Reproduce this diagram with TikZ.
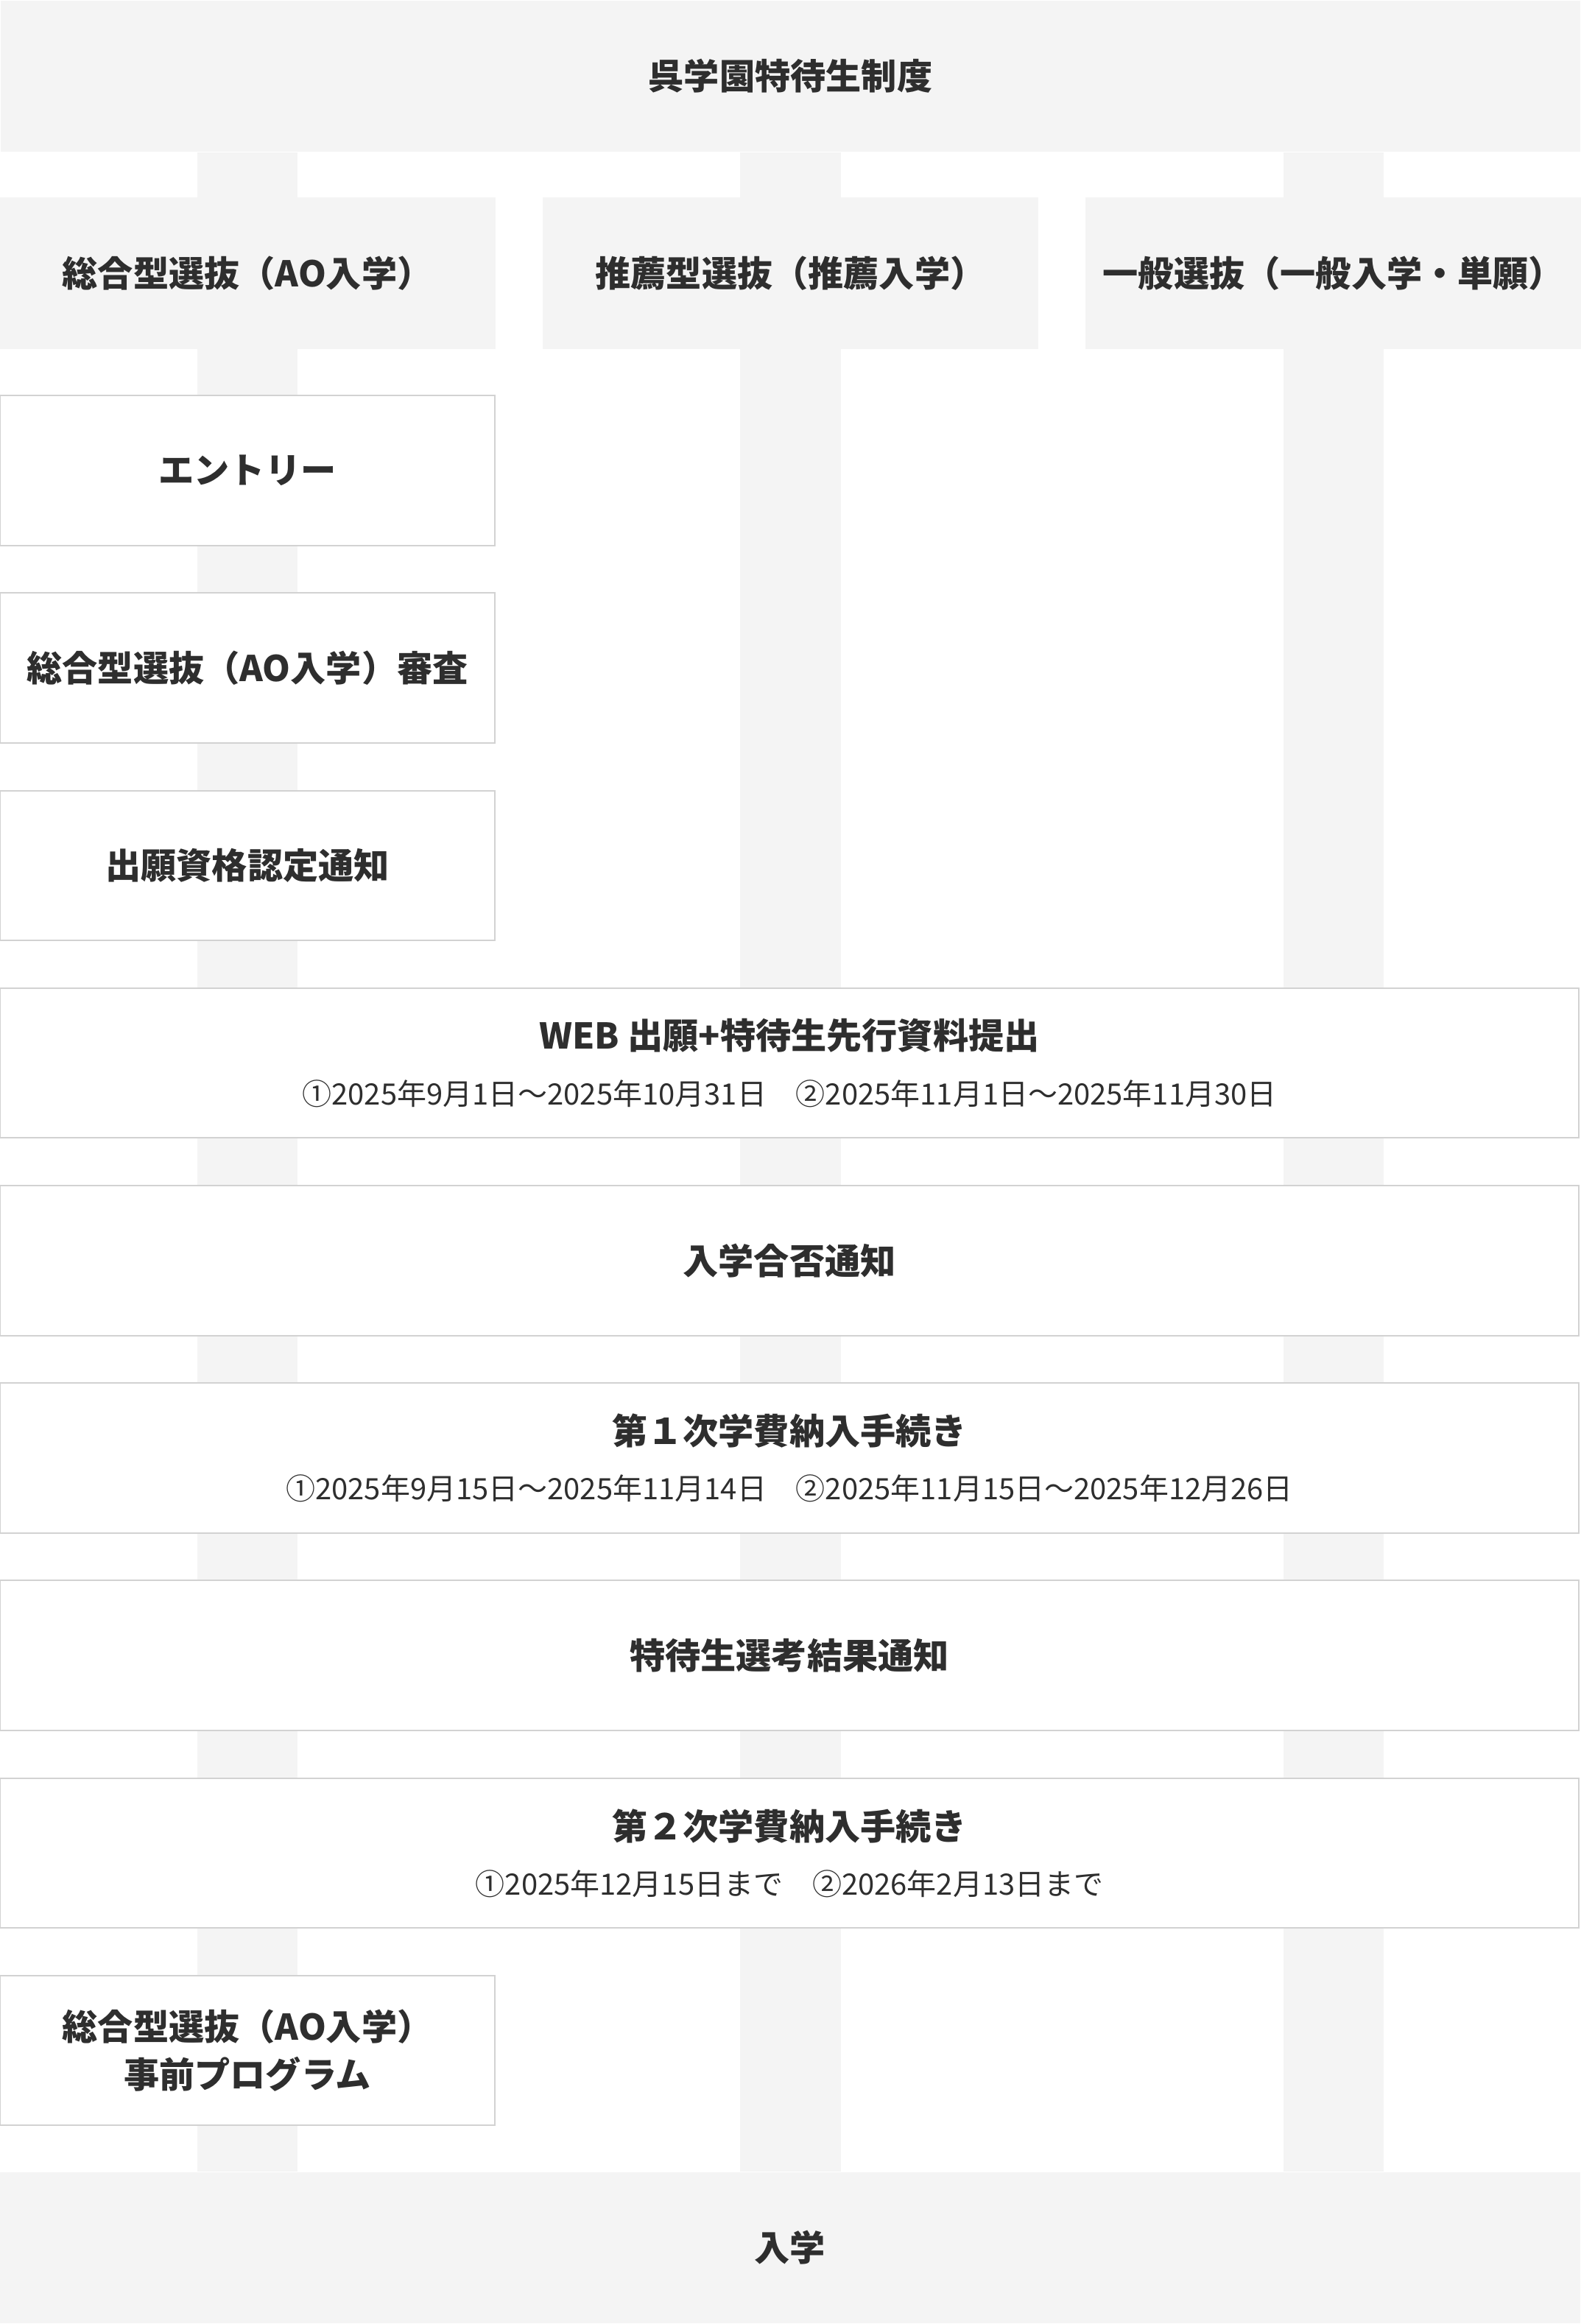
\documentclass[tikz,border=0pt]{standalone}
\usepackage{fontspec}
\setmainfont{Noto Sans CJK JP}
\usetikzlibrary{positioning, backgrounds}
\definecolor{boxgray}{HTML}{F4F4F4}
\definecolor{edgegray}{HTML}{D2D2D2}
\definecolor{inkgray}{HTML}{2E2E2E}
\newcommand{\titlefont}{\fontsize{13.8pt}{16.5pt}\selectfont\bfseries}
\newcommand{\datefont}{\fontsize{11.45pt}{14pt}\selectfont\mdseries}
\tikzstyle{head} = [rectangle, minimum width=21.6cm, minimum height=2.07cm,
text centered, fill=boxgray, text=inkgray, font=\titlefont]
\tikzstyle{route} = [rectangle, minimum width=6.78cm, minimum height=2.07cm,
text centered, fill=boxgray, text=inkgray, font=\titlefont]
\tikzstyle{stepbox} = [rectangle, minimum width=6.76cm, minimum height=2.05cm,
align=center, draw=edgegray, line width=0.02cm, fill=white, text=inkgray, font=\titlefont]
\tikzstyle{widebox} = [stepbox, minimum width=21.58cm]
\tikzstyle{stripe} = [line width=1.37cm, draw=boxgray]

\begin{document}
\begin{tikzpicture}[node distance=0.63cm]
      \node (head) [head] {呉学園特待生制度};
      \node (rec) [route, below=0.61cm of head] {推薦型選抜（推薦入学）};
      \node (ao) [route, left=0.63cm of rec] {総合型選抜（AO入学）};
      \node (gen) [route, right=0.63cm of rec] {一般選抜（一般入学・単願）};

      \node (entry) [stepbox, below=0.62cm of ao] {エントリー};
      \node (review) [stepbox, below=of entry] {総合型選抜（AO入学）審査};
      \node (notice) [stepbox, below=of review] {出願資格認定通知};

      \node (web) [widebox, below=of notice.south west, anchor=north west] {WEB 出願+特待生先行資料提出\\[5pt]
        {\datefont ①2025年9月1日～2025年10月31日　②2025年11月1日～2025年11月30日}};
      \node (result) [widebox, below=of web] {入学合否通知};
      \node (pay1) [widebox, below=of result] {第１次学費納入手続き\\[5pt]
        {\datefont ①2025年9月15日～2025年11月14日　②2025年11月15日～2025年12月26日}};
      \node (award) [widebox, below=of pay1] {特待生選考結果通知};
      \node (pay2) [widebox, below=of award] {第２次学費納入手続き\\[5pt]
        {\datefont ①2025年12月15日まで　②2026年2月13日まで}};
      \node (prog) [stepbox, below=of pay2.south west, anchor=north west] {総合型選抜（AO入学）\\[2pt]事前プログラム};

      \node (admit) [head, below=0.62cm of prog.south west, anchor=north west] {入学};

      % columns behind the boxes
      \begin{scope}[on background layer]
        \draw [stripe] (ao |- head.south) -- (ao |- admit.north);
        \draw [stripe] (rec |- head.south) -- (rec |- admit.north);
        \draw [stripe] (gen |- head.south) -- (gen |- admit.north);
      \end{scope}

      \pgfresetboundingbox
      \useasboundingbox (head.north west) rectangle (admit.south east);
    \end{tikzpicture}
\end{document}
